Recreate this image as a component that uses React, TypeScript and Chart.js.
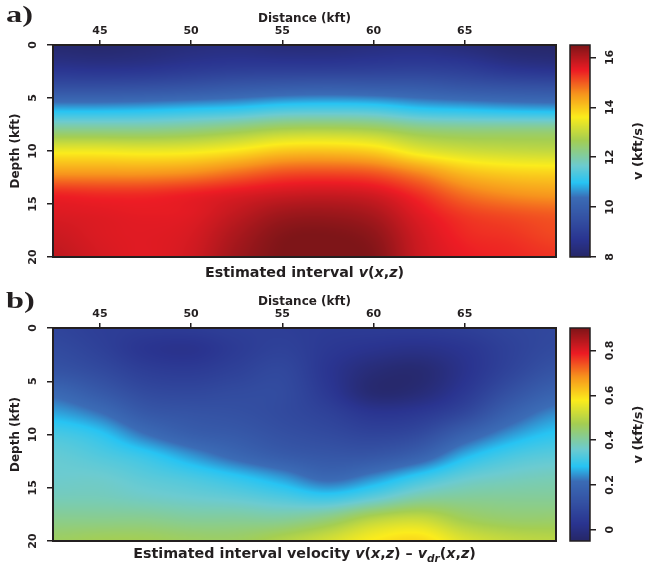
import { useEffect, useRef } from "react";
import { Chart, registerables } from "chart.js";

Chart.register(...registerables);

// Model sampling grid (kft)
const DISTANCE_KFT = [42.5, 45, 47.5, 50, 52.5, 55, 57.5, 60, 62.5, 65, 67.5, 70];
const DEPTH_KFT = [0, 2, 4, 6, 8, 10, 12, 14, 16, 18, 20];

// Estimated interval velocity v(x,z), kft/s — one row per depth
const INTERVAL_V = [
  [8.15, 8.1, 8.2, 8.35, 8.4, 8.3, 8.3, 8.4, 8.45, 8.3, 8.1, 8.05],
  [8.6, 8.55, 8.6, 8.75, 8.85, 8.85, 8.85, 8.9, 8.95, 8.85, 8.6, 8.5],
  [9.5, 9.5, 9.55, 9.65, 9.8, 9.9, 9.95, 9.9, 9.85, 9.7, 9.6, 9.55],
  [10.8, 10.8, 10.85, 10.95, 11.05, 11.25, 11.3, 11.25, 11.0, 10.9, 10.8, 10.75],
  [12.2, 12.2, 12.2, 12.3, 12.5, 12.75, 12.8, 12.7, 12.4, 12.3, 12.3, 12.3],
  [13.5, 13.5, 13.45, 13.5, 13.7, 14.0, 14.05, 13.9, 13.4, 13.15, 13.05, 13.0],
  [14.45, 14.45, 14.45, 14.55, 14.8, 15.05, 15.1, 15.0, 14.6, 14.1, 13.9, 13.85],
  [15.4, 15.35, 15.35, 15.45, 15.6, 15.75, 15.8, 15.7, 15.3, 14.8, 14.55, 14.45],
  [15.65, 15.6, 15.55, 15.6, 15.9, 16.2, 16.25, 16.1, 15.6, 15.25, 15.1, 15.0],
  [15.8, 15.65, 15.6, 15.7, 16.1, 16.45, 16.5, 16.35, 15.75, 15.4, 15.3, 15.15],
  [15.9, 15.7, 15.6, 15.75, 16.2, 16.5, 16.5, 16.45, 15.8, 15.5, 15.4, 15.3],
];

// Difference v(x,z) - v_dr(x,z), kft/s — one row per depth
const V_DIFF = [
  [0.08, 0.06, 0.05, 0.05, 0.06, 0.06, 0.05, 0.05, 0.05, 0.06, 0.08, 0.09],
  [0.1, 0.07, 0.03, 0.02, 0.05, 0.07, 0.04, 0.02, 0.01, 0.03, 0.07, 0.1],
  [0.13, 0.1, 0.06, 0.05, 0.07, 0.09, 0.03, -0.02, -0.03, 0.02, 0.08, 0.13],
  [0.2, 0.15, 0.1, 0.09, 0.1, 0.1, 0.04, -0.03, -0.02, 0.04, 0.12, 0.18],
  [0.26, 0.22, 0.15, 0.13, 0.12, 0.1, 0.07, 0.03, 0.04, 0.09, 0.18, 0.24],
  [0.32, 0.29, 0.22, 0.17, 0.15, 0.12, 0.1, 0.08, 0.1, 0.18, 0.25, 0.29],
  [0.35, 0.33, 0.3, 0.25, 0.2, 0.16, 0.14, 0.14, 0.18, 0.27, 0.32, 0.34],
  [0.36, 0.36, 0.34, 0.32, 0.29, 0.25, 0.2, 0.24, 0.3, 0.35, 0.37, 0.38],
  [0.38, 0.38, 0.37, 0.36, 0.35, 0.33, 0.31, 0.35, 0.4, 0.41, 0.41, 0.41],
  [0.42, 0.42, 0.42, 0.41, 0.41, 0.41, 0.44, 0.5, 0.52, 0.47, 0.45, 0.45],
  [0.46, 0.47, 0.47, 0.46, 0.46, 0.49, 0.53, 0.58, 0.6, 0.54, 0.51, 0.5],
];

const DISTANCE_RANGE = [42.43, 70];
const DEPTH_RANGE = [0, 20];
const DISTANCE_TICKS = [45, 50, 55, 60, 65];
const DEPTH_TICKS = [0, 5, 10, 15, 20];
const V_RANGE = [8, 16.5];
const V_TICKS = [8, 10, 12, 14, 16];
const DV_RANGE = [-0.05, 0.9];
const DV_TICKS = [0, 0.2, 0.4, 0.6, 0.8];

// Colour scale: stop positions and colours
const CMAP_POS = [0, 0.08, 0.18, 0.28, 0.35, 0.43, 0.55, 0.66, 0.77, 0.88, 1];
const CMAP_HEX = [
  "#262767", "#2a3490", "#3451a3", "#3b6cb6", "#27c4f3", "#6ccbd0",
  "#a4ce52", "#fbec1c", "#f7941d", "#ed1c24", "#7e1518",
];

const FONT = '"DejaVu Sans", "Noto Sans", sans-serif';
const INK = "#231f20";

type Piece = { text: string; kind: "roman" | "italic" | "sub" };

const CAPTION_A: Piece[] = [
  { text: "Estimated interval ", kind: "roman" },
  { text: "v", kind: "italic" },
  { text: "(", kind: "roman" },
  { text: "x", kind: "italic" },
  { text: ",", kind: "roman" },
  { text: "z", kind: "italic" },
  { text: ")", kind: "roman" },
];

const CAPTION_B: Piece[] = [
  { text: "Estimated interval velocity ", kind: "roman" },
  { text: "v", kind: "italic" },
  { text: "(", kind: "roman" },
  { text: "x", kind: "italic" },
  { text: ",", kind: "roman" },
  { text: "z", kind: "italic" },
  { text: ") \u2013 ", kind: "roman" },
  { text: "v", kind: "italic" },
  { text: "dr", kind: "sub" },
  { text: "(", kind: "roman" },
  { text: "x", kind: "italic" },
  { text: ",", kind: "roman" },
  { text: "z", kind: "italic" },
  { text: ")", kind: "roman" },
];

function hexToRgb(h: string): number[] {
  const n = parseInt(h.slice(1), 16);
  return [(n >> 16) & 255, (n >> 8) & 255, n & 255];
}
const CMAP_RGB = CMAP_HEX.map(hexToRgb);

function colorAt(t: number): number[] {
  const u = Math.max(0, Math.min(1, t));
  let i = 0;
  while (i < CMAP_POS.length - 2 && u > CMAP_POS[i + 1]) i++;
  const f = (u - CMAP_POS[i]) / (CMAP_POS[i + 1] - CMAP_POS[i]);
  const a = CMAP_RGB[i];
  const b = CMAP_RGB[i + 1];
  return [a[0] + (b[0] - a[0]) * f, a[1] + (b[1] - a[1]) * f, a[2] + (b[2] - a[2]) * f];
}

function catmull(p0: number, p1: number, p2: number, p3: number, t: number) {
  const t2 = t * t;
  const t3 = t2 * t;
  return 0.5 * (2 * p1 + (-p0 + p2) * t + (2 * p0 - 5 * p1 + 4 * p2 - p3) * t2 + (-p0 + 3 * p1 - 3 * p2 + p3) * t3);
}

// Smooth sample of a gridded field at (distance, depth)
function sampleField(grid: number[][], d: number, z: number) {
  const nx = DISTANCE_KFT.length;
  const nz = DEPTH_KFT.length;
  const fx = Math.max(0, Math.min(nx - 1, (d - DISTANCE_KFT[0]) / (DISTANCE_KFT[1] - DISTANCE_KFT[0])));
  const fz = Math.max(0, Math.min(nz - 1, (z - DEPTH_KFT[0]) / (DEPTH_KFT[1] - DEPTH_KFT[0])));
  const ix = Math.min(Math.floor(fx), nx - 2);
  const iz = Math.min(Math.floor(fz), nz - 2);
  const tx = fx - ix;
  const tz = fz - iz;
  const cx = (i: number) => Math.max(0, Math.min(nx - 1, i));
  const cz = (i: number) => Math.max(0, Math.min(nz - 1, i));
  const row = (r: number) => {
    const R = grid[cz(r)];
    return catmull(R[cx(ix - 1)], R[cx(ix)], R[cx(ix + 1)], R[cx(ix + 2)], tx);
  };
  return catmull(row(iz - 1), row(iz), row(iz + 1), row(iz + 2), tz);
}

function drawCaption(ctx: CanvasRenderingContext2D, pieces: Piece[], cx: number, baseline: number) {
  const fonts = {
    roman: `bold 14.3px ${FONT}`,
    italic: `italic bold 14.3px ${FONT}`,
    sub: `italic bold 10.5px ${FONT}`,
  };
  const widths = pieces.map((p) => {
    ctx.font = fonts[p.kind];
    return ctx.measureText(p.text).width;
  });
  const total = widths.reduce((s, w) => s + w, 0);
  let x = cx - total / 2;
  ctx.textAlign = "left";
  ctx.textBaseline = "alphabetic";
  ctx.fillStyle = INK;
  pieces.forEach((p, i) => {
    ctx.font = fonts[p.kind];
    ctx.fillText(p.text, x, baseline + (p.kind === "sub" ? 3.5 : 0));
    x += widths[i];
  });
}

function makeFieldPlugin(grid: number[][], range: number[], letter: string, letterBase: number, caption: Piece[], captionBase: number) {
  return {
    id: "field",
    beforeDatasetsDraw(chart: any) {
      const { ctx, chartArea: a, scales } = chart;
      const xs = scales.x;
      const ys = scales.y;
      const w = Math.round(a.right - a.left);
      const h = Math.round(a.bottom - a.top);
      const off = document.createElement("canvas");
      off.width = w;
      off.height = h;
      const octx = off.getContext("2d")!;
      const img = octx.createImageData(w, h);
      const dvals = new Float64Array(w);
      for (let px = 0; px < w; px++) dvals[px] = xs.getValueForPixel(a.left + px + 0.5);
      for (let py = 0; py < h; py++) {
        const z = ys.getValueForPixel(a.top + py + 0.5);
        for (let px = 0; px < w; px++) {
          const v = sampleField(grid, dvals[px], z);
          const c = colorAt((v - range[0]) / (range[1] - range[0]));
          const k = (py * w + px) * 4;
          img.data[k] = c[0];
          img.data[k + 1] = c[1];
          img.data[k + 2] = c[2];
          img.data[k + 3] = 255;
        }
      }
      octx.putImageData(img, 0, 0);
      ctx.drawImage(off, a.left, a.top);
    },
    afterDraw(chart: any) {
      const { ctx, chartArea: a } = chart;
      ctx.save();
      ctx.strokeStyle = INK;
      ctx.lineWidth = 2;
      ctx.strokeRect(a.left, a.top, a.right - a.left, a.bottom - a.top);
      ctx.fillStyle = INK;
      drawCaption(ctx, caption, (a.left + a.right) / 2, captionBase);
      // panel letter, set in a wide bold serif
      ctx.translate(6, letterBase);
      ctx.scale(1.35, 1);
      ctx.font = `bold 24px "Liberation Serif", "DejaVu Serif", serif`;
      ctx.textAlign = "left";
      ctx.textBaseline = "alphabetic";
      ctx.fillText(letter, 0, 0);
      ctx.restore();
    },
  };
}

function makeColorbarPlugin(range: number[], title: string) {
  return {
    id: "colorbar",
    beforeDatasetsDraw(chart: any) {
      const { ctx, chartArea: a, scales } = chart;
      const ys = scales.y;
      for (let py = Math.floor(a.top); py < Math.ceil(a.bottom); py++) {
        const v = ys.getValueForPixel(py + 0.5);
        const c = colorAt((v - range[0]) / (range[1] - range[0]));
        ctx.fillStyle = `rgb(${c[0] | 0},${c[1] | 0},${c[2] | 0})`;
        ctx.fillRect(a.left, py, a.right - a.left, 1);
      }
    },
    afterDraw(chart: any) {
      const { ctx, chartArea: a } = chart;
      ctx.save();
      ctx.strokeStyle = INK;
      ctx.lineWidth = 1.5;
      ctx.strokeRect(a.left, a.top, a.right - a.left, a.bottom - a.top);
      ctx.translate(79, (a.top + a.bottom) / 2);
      ctx.rotate(-Math.PI / 2);
      ctx.fillStyle = INK;
      ctx.font = `bold 13px ${FONT}`;
      ctx.textAlign = "center";
      ctx.textBaseline = "middle";
      ctx.fillText(title, 0, 0);
      ctx.restore();
    },
  };
}

const tickFont = { family: FONT, size: 11, weight: "bold" as const };
const titleFont = { family: FONT, size: 12, weight: "bold" as const };

function makeMainConfig(grid: number[][], range: number[], letter: string, letterBase: number, caption: Piece[], captionBase: number): any {
  return {
    type: "scatter",
    data: { datasets: [{ data: [] }] },
    options: {
      animation: false,
      responsive: false,
      devicePixelRatio: 1,
      events: [],
      layout: { padding: { left: 0, top: 0, right: 4, bottom: 26 } },
      plugins: { legend: { display: false }, tooltip: { enabled: false } },
      scales: {
        x: {
          type: "linear",
          position: "top",
          min: DISTANCE_RANGE[0],
          max: DISTANCE_RANGE[1],
          afterBuildTicks: (s: any) => {
            s.ticks = DISTANCE_TICKS.map((v) => ({ value: v }));
          },
          afterFit: (s: any) => {
            s.height = 45;
          },
          ticks: { font: tickFont, color: INK, padding: 2, maxRotation: 0, callback: (v: number) => String(v) },
          grid: { drawOnChartArea: false, tickLength: 5, color: INK, lineWidth: 1.5 },
          border: { display: false },
          title: {
            display: true,
            text: "Distance (kft)",
            font: titleFont,
            color: INK,
            padding: { top: 12, bottom: 0 },
          },
        },
        y: {
          type: "linear",
          position: "left",
          reverse: true,
          min: DEPTH_RANGE[0],
          max: DEPTH_RANGE[1],
          afterBuildTicks: (s: any) => {
            s.ticks = DEPTH_TICKS.map((v) => ({ value: v }));
          },
          afterFit: (s: any) => {
            s.width = 53;
          },
          ticks: {
            font: tickFont,
            color: INK,
            padding: 6,
            minRotation: 90,
            maxRotation: 90,
            crossAlign: "center",
            callback: (v: number) => String(v),
          },
          grid: { drawOnChartArea: false, tickLength: 6, color: INK, lineWidth: 1.5 },
          border: { display: false },
          title: {
            display: true,
            text: "Depth (kft)",
            font: titleFont,
            color: INK,
            padding: { top: 9, bottom: 0 },
          },
        },
      },
    },
    plugins: [makeFieldPlugin(grid, range, letter, letterBase, caption, captionBase)],
  };
}

function makeColorbarConfig(range: number[], ticks: number[], tickPad: number): any {
  return {
    type: "scatter",
    data: { datasets: [{ data: [] }] },
    options: {
      animation: false,
      responsive: false,
      devicePixelRatio: 1,
      events: [],
      layout: { padding: { left: 10, top: 45, right: 0, bottom: 26 } },
      plugins: { legend: { display: false }, tooltip: { enabled: false } },
      scales: {
        x: { type: "linear", display: false, min: 0, max: 1 },
        y: {
          type: "linear",
          position: "right",
          min: range[0],
          max: range[1],
          afterBuildTicks: (s: any) => {
            s.ticks = ticks.map((v) => ({ value: v }));
          },
          afterFit: (s: any) => {
            s.width = 56;
          },
          ticks: {
            font: tickFont,
            color: INK,
            padding: tickPad,
            minRotation: 90,
            maxRotation: 90,
            crossAlign: "center",
            callback: (v: number) => String(v),
          },
          grid: { drawOnChartArea: false, tickLength: 6, color: INK, lineWidth: 1.5 },
          border: { display: false },
        },
      },
    },
    plugins: [makeColorbarPlugin(range, "v (kft/s)")],
  };
}

function ChartCanvas({ make, left, top, width, height }: { make: () => any; left: number; top: number; width: number; height: number }) {
  const ref = useRef<HTMLCanvasElement | null>(null);
  useEffect(() => {
    const chart = new Chart(ref.current!, make());
    return () => chart.destroy();
  }, []);
  return (
    <canvas
      ref={ref}
      width={width}
      height={height}
      style={{ position: "absolute", left, top, width, height }}
    />
  );
}

export default function App() {
  return (
    <div style={{ position: "absolute", left: 0, top: 0, width: 646, height: 567, background: "#fff", overflow: "hidden" }}>
      <ChartCanvas
        make={() => makeMainConfig(INTERVAL_V, V_RANGE, "a)", 22, CAPTION_A, 277)}
        left={0}
        top={0}
        width={560}
        height={283}
      />
      <ChartCanvas make={() => makeColorbarConfig(V_RANGE, V_TICKS, 6)} left={560} top={0} width={86} height={283} />
      <ChartCanvas
        make={() => makeMainConfig(V_DIFF, DV_RANGE, "b)", 25, CAPTION_B, 275)}
        left={0}
        top={283}
        width={560}
        height={284}
      />
      <ChartCanvas make={() => makeColorbarConfig(DV_RANGE, DV_TICKS, 4)} left={560} top={283} width={86} height={284} />
    </div>
  );
}
